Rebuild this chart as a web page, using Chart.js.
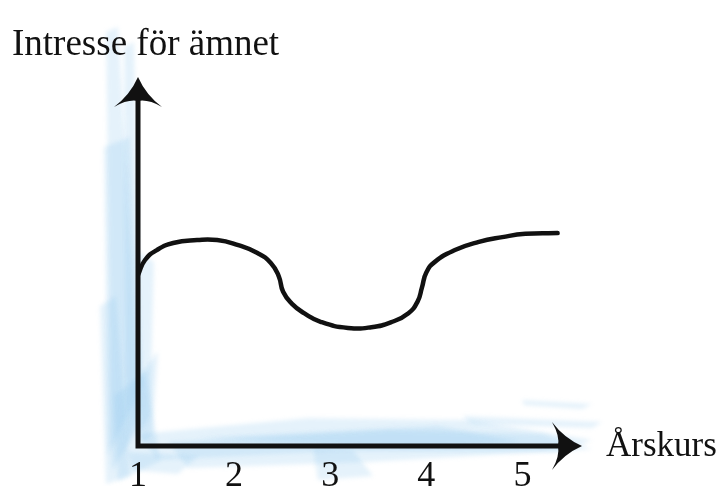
<!DOCTYPE html>
<html>
<head>
<meta charset="utf-8">
<script src="https://cdn.jsdelivr.net/npm/chart.js@4"></script>
<style>
  html, body { margin: 0; padding: 0; background: #ffffff; }
  #wrap { width: 725px; height: 486px; position: relative; }
</style>
</head>
<body>
<div id="wrap"><canvas id="c"></canvas></div>
<script>
// ---- data ----
const gradeX = [1.0, 1.073, 1.196, 1.366, 1.615, 1.824, 2.034, 2.243, 2.382, 2.465, 2.51, 2.60, 2.728, 2.906, 3.185, 3.429, 3.639, 3.814, 3.91, 3.955, 4.0, 4.089, 4.298, 4.547, 4.791, 5.031, 5.366];
const interest = [4.63, 5.04, 5.31, 5.50, 5.58, 5.58, 5.45, 5.23, 4.96, 4.60, 4.18, 3.86, 3.60, 3.36, 3.20, 3.22, 3.36, 3.60, 3.92, 4.30, 4.70, 4.99, 5.31, 5.53, 5.66, 5.75, 5.77];
const tickValues = [1, 2, 3, 4, 5];
const tickLabels = ['1', '2', '3', '4', '5'];
const yTitle = 'Intresse för ämnet';
const xTitle = 'Årskurs';

const points = gradeX.map((x, i) => ({ x: x, y: interest[i] }));
const SERIF = '"Liberation Serif", "DejaVu Serif", serif';

function arrowUp(ctx, x, y) {
  ctx.beginPath();
  ctx.moveTo(x, y);
  ctx.quadraticCurveTo(x + 8, y + 18, x + 24, y + 30);
  ctx.quadraticCurveTo(x + 10, y + 22, x, y + 24);
  ctx.quadraticCurveTo(x - 10, y + 22, x - 24, y + 30);
  ctx.quadraticCurveTo(x - 8, y + 18, x, y);
  ctx.closePath();
  ctx.fill();
}
function arrowRight(ctx, x, y) {
  ctx.beginPath();
  ctx.moveTo(x, y);
  ctx.quadraticCurveTo(x - 18, y + 8, x - 30, y + 24);
  ctx.quadraticCurveTo(x - 22, y + 10, x - 24, y);
  ctx.quadraticCurveTo(x - 22, y - 10, x - 30, y - 24);
  ctx.quadraticCurveTo(x - 18, y - 8, x, y);
  ctx.closePath();
  ctx.fill();
}

function poly(ctx, s) {
  ctx.beginPath();
  ctx.moveTo(s[0][0], s[0][1]);
  for (let i = 1; i < s.length; i++) ctx.lineTo(s[i][0], s[i][1]);
  ctx.closePath();
  ctx.fill();
}

const paintPlugin = {
  id: 'paint',
  beforeDatasetsDraw(chart) {
    const { ctx, chartArea: a } = chart;
    const L = a.left, B = a.bottom, T = a.top, R = a.right;
    ctx.save();
    ctx.filter = 'blur(2px)';
    // watercolour wash along the vertical axis
    const vStrokes = [
      [[L - 32, T - 45], [L - 20, T - 50], [L + 2, B - 20], [L - 26, B + 25]],
      [[L - 14, T - 30], [L - 4, T - 35], [L + 4, B - 40], [L - 12, B]],
      [[L - 34, T + 70], [L - 8, T + 60], [L + 4, B - 60], [L - 30, B + 10]],
      [[L, T + 175], [L + 16, T + 185], [L + 12, B - 30], [L, B - 10]],
      [[L - 24, B - 50], [L + 8, B - 75], [L + 22, B + 15], [L - 20, B + 35]],
      [[L - 38, B - 140], [L - 22, B - 150], [L - 8, B + 30], [L - 32, B + 38]],
      [[L + 2, B - 70], [L + 20, B - 95], [L + 14, B - 10], [L + 2, B]]
    ];
    // watercolour wash along the horizontal axis
    const hStrokes = [
      [[L, B - 12], [L + 170, B - 28], [L + 330, B - 26], [R + 10, B - 6], [R - 20, B + 6], [L + 200, B + 5], [L + 20, B + 14]],
      [[L + 30, B - 4], [L + 250, B - 16], [R - 40, B - 12], [R + 10, B + 3], [L + 230, B + 16], [L + 50, B + 22]],
      [[L + 175, B + 2], [L + 215, B + 4], [L + 235, B + 30], [L + 180, B + 34]],
      [[R - 120, B - 30], [R + 20, B - 24], [R + 10, B - 18], [R - 110, B - 22]],
      [[R - 60, B - 46], [R + 10, B - 42], [R, B - 37], [R - 58, B - 41]],
      [[L - 10, B + 6], [L + 60, B + 10], [L + 40, B + 28], [L - 5, B + 24]],
      [[L + 60, B - 8], [L + 300, B - 20], [R - 60, B - 4], [L + 280, B + 2]]
    ];
    ctx.fillStyle = 'rgba(145, 200, 238, 0.24)';
    for (const s of vStrokes.concat(hStrokes)) poly(ctx, s);
    ctx.restore();
  },
  afterDatasetsDraw(chart) {
    const { ctx, chartArea: a, scales } = chart;
    ctx.save();
    ctx.strokeStyle = '#111';
    ctx.fillStyle = '#111';
    ctx.lineWidth = 5;
    ctx.lineCap = 'butt';
    // axes
    ctx.beginPath();
    ctx.moveTo(a.left, a.top + 20);
    ctx.lineTo(a.left, a.bottom);
    ctx.lineTo(a.right - 20, a.bottom);
    ctx.stroke();
    arrowUp(ctx, a.left, a.top);
    arrowRight(ctx, a.right, a.bottom);
    // tick labels
    ctx.font = '36px ' + SERIF;
    ctx.textAlign = 'center';
    ctx.textBaseline = 'alphabetic';
    tickValues.forEach((v, i) => {
      ctx.fillText(tickLabels[i], scales.x.getPixelForValue(v), a.bottom + 40);
    });
    // axis titles
    ctx.font = '37px ' + SERIF;
    ctx.textAlign = 'left';
    ctx.fillText(yTitle, 12, 55);
    ctx.font = '35px ' + SERIF;
    ctx.fillText(xTitle, a.right + 24, a.bottom + 10);
    ctx.restore();
  }
};

new Chart(document.getElementById('c'), {
  type: 'line',
  data: {
    datasets: [{
      data: points,
      borderColor: '#111',
      borderWidth: 4.5,
      pointRadius: 0,
      fill: false,
      tension: 0.5,
      borderCapStyle: 'round',
      borderJoinStyle: 'round'
    }]
  },
  options: {
    responsive: true,
    maintainAspectRatio: false,
    animation: false,
    layout: { padding: { left: 138, right: 143, top: 77, bottom: 40 } },
    plugins: { legend: { display: false }, tooltip: { enabled: false } },
    scales: {
      x: { type: 'linear', min: 1, max: 5.62, display: false },
      y: { type: 'linear', min: 0, max: 10, display: false }
    }
  },
  plugins: [paintPlugin]
});
</script>
</body>
</html>
